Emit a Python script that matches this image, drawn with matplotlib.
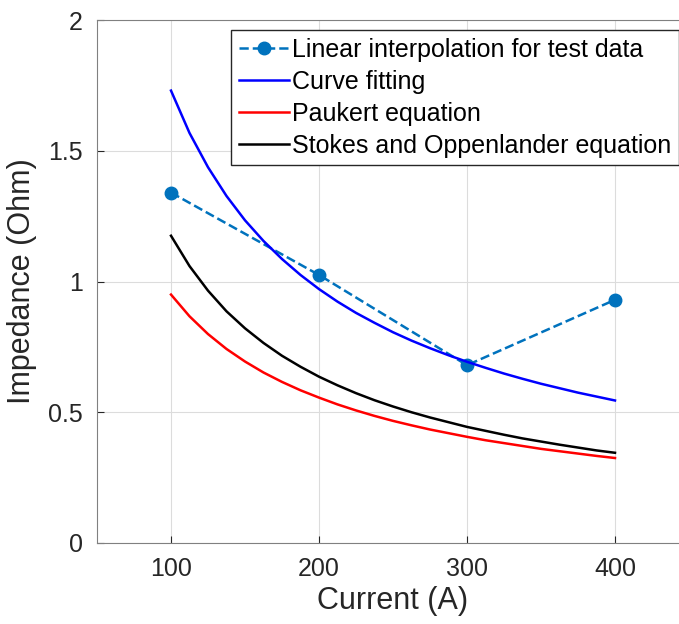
import matplotlib
matplotlib.use("Agg")
import matplotlib.pyplot as plt

plt.rcParams['font.family'] = ['Liberation Sans', 'DejaVu Sans']

# test data points
test_current = [100, 200, 300, 400]
test_impedance = [1.34, 1.025, 0.68, 0.93]

# model curves, values
curve_current = [100, 112.5, 125, 137.5, 150, 162.5, 175, 187.5, 200, 212.5, 225, 237.5,
                 250, 262.5, 275, 287.5, 300, 312.5, 325, 337.5, 350, 362.5, 375, 387.5, 400]
fit_impedance = [1.730, 1.568, 1.437, 1.327, 1.234, 1.155, 1.086, 1.025, 0.971, 0.923,
                 0.880, 0.842, 0.806, 0.774, 0.745, 0.718, 0.693, 0.670, 0.648, 0.628,
                 0.609, 0.592, 0.575, 0.560, 0.545]
paukert_impedance = [0.950, 0.867, 0.799, 0.742, 0.694, 0.652, 0.616, 0.584, 0.556, 0.530,
                     0.507, 0.486, 0.467, 0.450, 0.434, 0.420, 0.406, 0.393, 0.382, 0.371,
                     0.360, 0.351, 0.342, 0.333, 0.325]
stokes_impedance = [1.175, 1.059, 0.965, 0.886, 0.821, 0.765, 0.716, 0.674, 0.636, 0.603,
                    0.573, 0.546, 0.522, 0.500, 0.480, 0.462, 0.444, 0.429, 0.414, 0.400,
                    0.388, 0.376, 0.365, 0.354, 0.345]

x_ticks = [100, 200, 300, 400]
y_ticks = [0, 0.5, 1, 1.5, 2]

fig = plt.figure(figsize=(6.79, 6.24), dpi=100)
ax = fig.add_axes([97 / 679, 81 / 624, 592 / 679, 523 / 624])

ax.plot(test_current, test_impedance, '--o', color='#0072BD', lw=1.8, ms=9,
        label='Linear interpolation for test data')
ax.plot(curve_current, fit_impedance, color='b', lw=1.8, label='Curve fitting')
ax.plot(curve_current, paukert_impedance, color='r', lw=1.8, label='Paukert equation')
ax.plot(curve_current, stokes_impedance, color='k', lw=1.8,
        label='Stokes and Oppenlander equation')

ax.set_xlim(50, 450)
ax.set_ylim(0, 2)
ax.set_xticks(x_ticks)
ax.set_yticks(y_ticks)
ax.set_yticklabels(['0', '0.5', '1', '1.5', '2'])
ax.grid(True, color='#dcdcdc', lw=0.8)
ax.set_axisbelow(True)
ax.tick_params(direction='in', labelsize=18, colors='#262626', length=5, pad=10)
for s in ax.spines.values():
    s.set_color('#808080')
ax.set_xlabel('Current (A)', fontsize=22, color='#262626', labelpad=4)
ax.set_ylabel('Impedance (Ohm)', fontsize=22, color='#262626', labelpad=8)

leg = ax.legend(loc='upper right', fontsize=18, fancybox=False, framealpha=1,
                edgecolor='#262626', handlelength=2.0, handletextpad=0.15,
                labelspacing=0.32, borderpad=0.3, borderaxespad=0.4)
leg.get_frame().set_linewidth(1.0)

fig.savefig('out.png', dpi=100)
